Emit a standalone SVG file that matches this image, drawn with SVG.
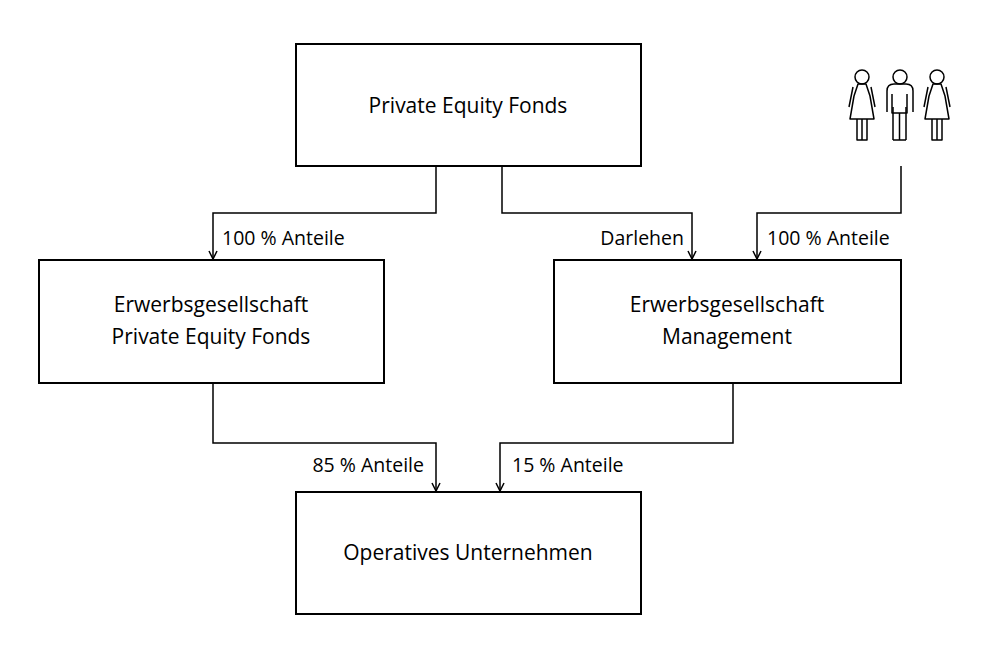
<svg xmlns="http://www.w3.org/2000/svg" width="996" height="665" viewBox="0 0 996 665">
<style>
.box{fill:#fff;stroke:#000;stroke-width:2}
.t{font-family:"Open Sans","Liberation Sans",Arial,sans-serif;font-size:21px;fill:#000;text-anchor:middle}
.l{font-family:"Open Sans","Liberation Sans",Arial,sans-serif;font-size:19.5px;fill:#000}
.c{fill:none;stroke:#000;stroke-width:1.5}
.p{fill:none;stroke:#000;stroke-width:1.5;stroke-linejoin:round}
</style>
<defs><marker id="a" viewBox="0 0 10 10" refX="9" refY="5" markerWidth="10" markerHeight="10" markerUnits="userSpaceOnUse" orient="auto"><path d="M1,1 L9,5 L1,9" fill="none" stroke="#000" stroke-width="1.5"/></marker></defs>
<rect width="996" height="665" fill="#fff"/>
<g id="fonds"><rect class="box" x="296" y="44" width="345" height="122"/><text class="t" x="468" y="113">Private Equity Fonds</text></g>
<g id="erwerb-pef"><rect class="box" x="39" y="260" width="345" height="123"/><text class="t" x="211" y="312">Erwerbsgesellschaft</text><text class="t" x="211" y="344">Private Equity Fonds</text></g>
<g id="erwerb-mgmt"><rect class="box" x="554" y="260" width="347" height="123"/><text class="t" x="727" y="312">Erwerbsgesellschaft</text><text class="t" x="727" y="344">Management</text></g>
<g id="operativ"><rect class="box" x="296" y="492" width="345" height="122"/><text class="t" x="468" y="560">Operatives Unternehmen</text></g>
<g id="management">
<g class="p">
<circle cx="862" cy="77" r="7"/>
<path d="M858,84 L866,84 L870,96 L874,119 L850,119 L854,96 Z"/>
<path d="M853,87 L849,107 M871,87 L875,107"/>
<path d="M857,119 V140 H867 V119 M862,119 V140"/>
<circle cx="900" cy="77" r="7"/>
<path d="M893,140 V107 M906,140 V107 M899.5,140 V113 M893,140 H906"/>
<path d="M887,112 V91 Q887,84 894,84 H906 Q913,84 913,91 V112 M892,94 V113 H907 V94"/>
<circle cx="937" cy="77" r="7"/>
<path d="M933,84 L941,84 L945,96 L949,119 L925,119 L929,96 Z"/>
<path d="M928,87 L924,107 M946,87 L950,107"/>
<path d="M932,119 V140 H942 V119 M937,119 V140"/>
</g>
</g>
<g id="connectors">
<path class="c" marker-end="url(#a)" d="M436,166 V213 H213 V259"/>
<path class="c" marker-end="url(#a)" d="M502,166 V213 H692 V259"/>
<path class="c" marker-end="url(#a)" d="M901,166 V213 H757 V259"/>
<path class="c" marker-end="url(#a)" d="M213,383 V443 H436 V491"/>
<path class="c" marker-end="url(#a)" d="M733,383 V443 H500 V491"/>
</g>
<g id="labels">
<text class="l" x="222" y="245">100 % Anteile</text>
<text class="l" x="684" y="245" text-anchor="end">Darlehen</text>
<text class="l" x="767" y="245">100 % Anteile</text>
<text class="l" x="424" y="472" text-anchor="end">85 % Anteile</text>
<text class="l" x="512" y="472">15 % Anteile</text>
</g>
</svg>
